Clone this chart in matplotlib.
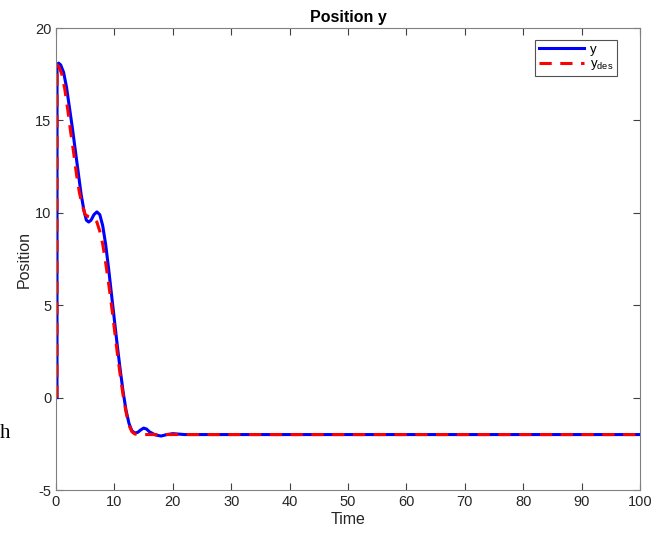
import matplotlib
matplotlib.use("Agg")
import matplotlib.pyplot as plt

plt.rcParams['font.family'] = ['Liberation Sans', 'DejaVu Sans']
plt.rcParams['axes.unicode_minus'] = False
plt.rcParams['mathtext.fontset'] = 'custom'
plt.rcParams['mathtext.rm'] = 'Liberation Sans'

t_y = [0.17, 0.18, 0.45, 0.8, 1.3, 1.8, 2.3, 2.8, 3.3, 3.8, 4.3, 4.8, 5.2, 5.6, 6.0, 6.5,
       7.0, 7.5, 8.0, 8.5, 9.0, 9.5, 10.0, 10.5, 11.0, 11.5, 12.0, 12.5, 13.0, 13.5,
       14.0, 14.5, 15.0, 15.5, 16.0, 17.0, 18.0, 19.0, 20.0, 22.0, 100]
y_act = [0, 18.0, 18.1, 18.0, 17.6, 16.8, 15.7, 14.6, 13.4, 12.2, 11.0, 10.1, 9.6, 9.5,
         9.6, 9.9, 10.05, 9.9, 9.3, 8.3, 7.0, 5.6, 4.2, 2.8, 1.5, 0.3, -0.7, -1.4, -1.8,
         -1.92, -1.88, -1.75, -1.65, -1.7, -1.85, -2.02, -2.08, -2.0, -1.95, -2.0, -2.0]

t_des = [0.17, 0.18, 0.5, 1.0, 1.5, 2.0, 2.5, 3.0, 3.5, 4.0, 4.5, 5.0, 5.5, 6.0, 6.5, 7.0,
         7.5, 8.0, 8.5, 9.0, 9.5, 10.0, 10.5, 11.0, 11.5, 12.0, 12.5, 13.0, 13.5, 14.0, 100]
y_des = [0, 18.0, 17.9, 17.5, 16.7, 15.6, 14.4, 13.3, 12.1, 11.1, 10.4, 9.9, 9.8, 9.75,
         9.7, 9.5, 9.0, 8.3, 7.3, 6.2, 5.0, 3.7, 2.4, 1.2, 0.1, -0.8, -1.5, -1.85, -1.97,
         -2.0, -2.0]

xticks = list(range(0, 101, 10))
yticks = [-5, 0, 5, 10, 15, 20]

fig = plt.figure(figsize=(6.7, 5.35), dpi=100)
ax = fig.add_axes([56/670, 45/535, 584/670, 462/535])

ax.plot(t_y, y_act, color='#0000ff', lw=2.2, label='y')
ax.plot(t_des, y_des, color='#ff0000', lw=2.2, ls=(0, (4, 2.8)), label='y$_{\\rm des}$')

ax.set_xlim(0, 100)
ax.set_ylim(-5, 20)
ax.set_xticks(xticks)
ax.set_yticks(yticks)
gc = '#262626'
for s in ax.spines.values():
    s.set_color('#808080')
    s.set_linewidth(0.8)
ax.tick_params(direction='in', top=True, right=True, colors='#404040',
               labelsize=10.5, length=5, width=0.8, labelcolor=gc)
ax.set_xlabel('Time', fontsize=11.5, color=gc, labelpad=2)
ax.set_ylabel('Position', fontsize=11.5, color=gc, labelpad=2)
ax.set_title('Position y', fontsize=11.5, fontweight='bold', color='black', pad=4)

leg = ax.legend(loc='upper right', bbox_to_anchor=(0.965, 0.98), fontsize=9.5,
                handlelength=3.4, frameon=True, fancybox=False, borderpad=0.3,
                labelspacing=0.15, handletextpad=0.4, borderaxespad=0.2)
leg.get_frame().set_edgecolor('#262626')
leg.get_frame().set_linewidth(0.8)

fig.text(0.0, (535-433)/535, 'h', family=['Liberation Serif', 'DejaVu Serif'],
         fontsize=15, va='center', ha='left', color='black')

fig.savefig('out.png', dpi=100)
